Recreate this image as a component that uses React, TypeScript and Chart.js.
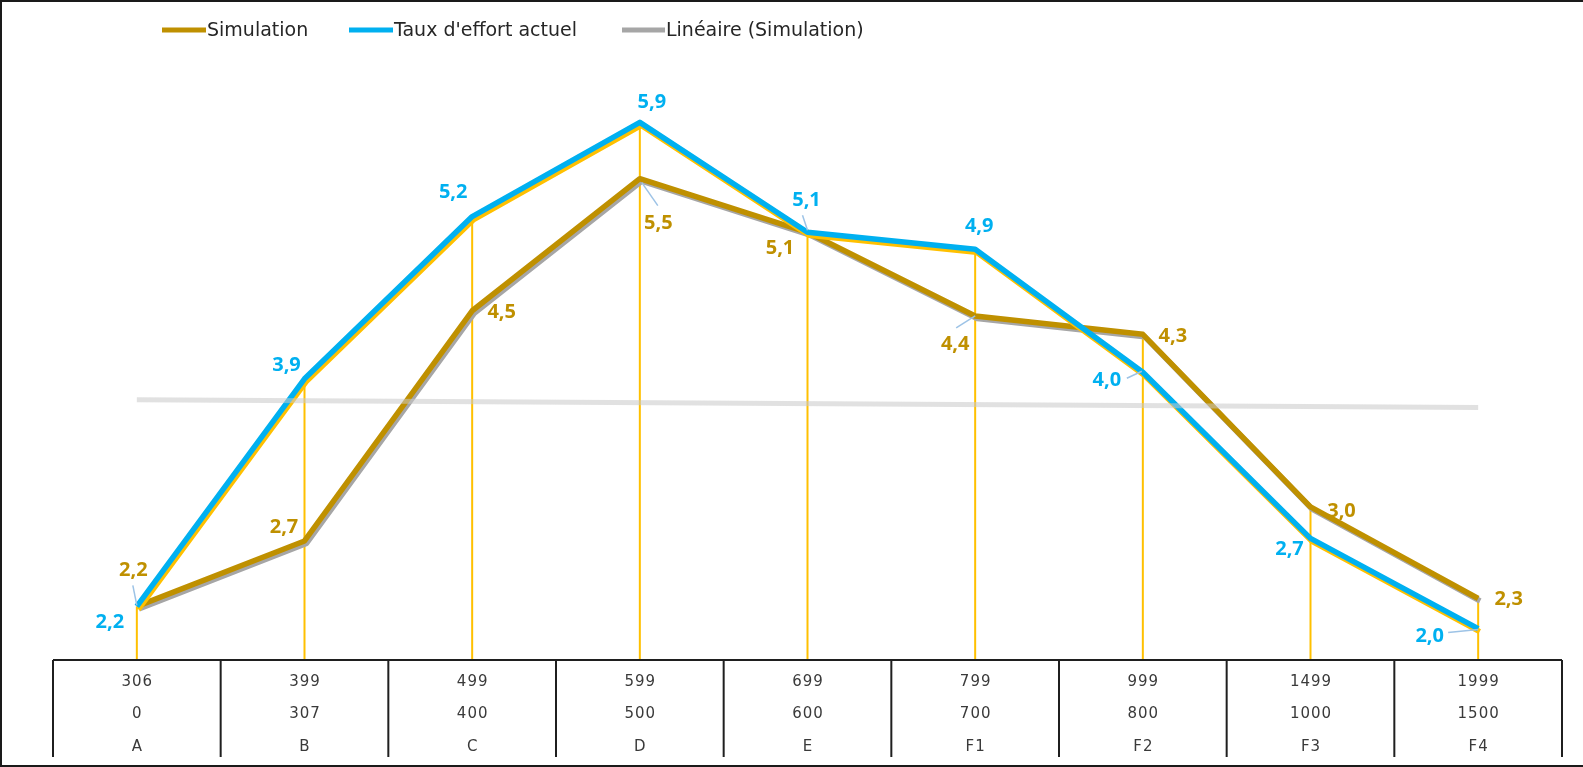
import React, { useEffect, useRef } from "react";
import { Chart, registerables } from "chart.js";

Chart.register(...registerables);

// ---- data ----
const categories = ["A", "B", "C", "D", "E", "F1", "F2", "F3", "F4"];
const rangeHigh = ["306", "399", "499", "599", "699", "799", "999", "1499", "1999"];
const rangeLow = ["0", "307", "400", "500", "600", "700", "800", "1000", "1500"];
const simulation = [2.2, 2.7, 4.46, 5.47, 5.06, 4.42, 4.28, 2.96, 2.26];
const tauxActuel = [2.2, 3.94, 5.18, 5.9, 5.06, 4.93, 3.99, 2.72, 2.03];
const lineaire = [3.78, null, null, null, null, null, null, null, 3.72];
const seriesNames = ["Simulation", "Taux d'effort actuel", "Linéaire (Simulation)"];

// ---- styles ----
const GOLD = "#BF9000";
const BLUE = "#00B0F0";
const YELLOW = "#FFC000";
const GREY = "#A6A6A6";
const LEADER = "#9DC3E6";

const simLabelOffsets = [[-3.5, -36.5], [-20.5, -14], [29.5, 2], [18.5, 44.5], [-27.5, 16], [-20, 28], [30, 2], [31, 4], [30.5, 1]];
const blueLabelOffsets = [[-27, 16], [-18, -13], [-19, -24], [12, -20], [-1, -32], [4, -23], [-36, 8], [-21, 11], [-48.5, 7.5]];
const simLeaders: Record<number, number[][]> = { 0: [[-4, -21], [0, -1]], 3: [[2, 4], [18, 27]], 5: [[-19, 12], [0, 0]] };
const blueLeaders: Record<number, number[][]> = { 4: [[-5, -17], [0, -2]], 6: [[-16, 6], [-1, -1]], 8: [[-30, 4], [0, 1]] };

const fmt = (v: number) => v.toFixed(1).replace(".", ",");

const shadowPlugin = {
  id: "shadowLines",
  beforeDatasetDraw(chart: any, args: any) {
    const ds = chart.data.datasets[args.index];
    const ctx = chart.ctx;
    ctx.save();
    if (ds.shadowColor) {
      ctx.shadowColor = ds.shadowColor;
      ctx.shadowOffsetX = ds.shadowX;
      ctx.shadowOffsetY = ds.shadowY;
      ctx.shadowBlur = 0;
    }
  },
  afterDatasetDraw(chart: any) {
    chart.ctx.restore();
  },
};

const decorPlugin = {
  id: "decor",
  beforeDatasetsDraw(chart: any) {
    const ctx = chart.ctx;
    const a = chart.chartArea;
    const mSim = chart.getDatasetMeta(1).data;
    const mBlue = chart.getDatasetMeta(0).data;
    ctx.save();
    ctx.strokeStyle = YELLOW;
    ctx.lineWidth = 2;
    for (let i = 0; i < categories.length; i++) {
      const x = mBlue[i].x;
      const top = Math.min(mSim[i].y, mBlue[i].y);
      ctx.beginPath();
      ctx.moveTo(x, top);
      ctx.lineTo(x, a.bottom);
      ctx.stroke();
    }
    ctx.restore();
  },
  afterDatasetsDraw(chart: any) {
    const ctx = chart.ctx;
    const mBlue = chart.getDatasetMeta(0).data;
    const mSim = chart.getDatasetMeta(1).data;
    ctx.save();
    ctx.strokeStyle = LEADER;
    ctx.lineWidth = 1.5;
    const drawLeaders = (meta: any[], leaders: Record<number, number[][]>) => {
      Object.keys(leaders).forEach((k) => {
        const i = Number(k);
        const p = meta[i];
        const [s, e] = leaders[i];
        ctx.beginPath();
        ctx.moveTo(p.x + s[0], p.y + s[1]);
        ctx.lineTo(p.x + e[0], p.y + e[1]);
        ctx.stroke();
      });
    };
    drawLeaders(mSim, simLeaders);
    drawLeaders(mBlue, blueLeaders);
    ctx.font = "bold 20px 'Open Sans'";
    ctx.textAlign = "center";
    ctx.textBaseline = "middle";
    ctx.fillStyle = GOLD;
    simulation.forEach((v, i) => {
      const p = mSim[i];
      ctx.fillText(fmt(v), p.x + simLabelOffsets[i][0], p.y + simLabelOffsets[i][1]);
    });
    ctx.fillStyle = BLUE;
    tauxActuel.forEach((v, i) => {
      const p = mBlue[i];
      ctx.fillText(fmt(v), p.x + blueLabelOffsets[i][0], p.y + blueLabelOffsets[i][1]);
    });
    ctx.restore();
  },
  afterDraw(chart: any) {
    const ctx = chart.ctx;
    const a = chart.chartArea;
    const xs = chart.scales.x;
    const W = chart.width;
    const H = chart.height;
    ctx.save();
    const legend = [
      { x1: 162, x2: 206, tx: 207, color: GOLD, text: seriesNames[0] },
      { x1: 349, x2: 393, tx: 394, color: BLUE, text: seriesNames[1] },
      { x1: 622, x2: 665, tx: 666, color: GREY, text: seriesNames[2] },
    ];
    ctx.lineWidth = 5;
    ctx.lineCap = "butt";
    ctx.font = "19px 'DejaVu Sans'";
    ctx.textBaseline = "middle";
    ctx.textAlign = "left";
    legend.forEach((l) => {
      ctx.strokeStyle = l.color;
      ctx.beginPath();
      ctx.moveTo(l.x1, 30);
      ctx.lineTo(l.x2, 30);
      ctx.stroke();
      ctx.fillStyle = "#262626";
      ctx.fillText(l.text, l.tx, 31);
    });
    const n = categories.length;
    const step = (a.right - a.left) / n;
    ctx.strokeStyle = "#1f1f1f";
    ctx.lineWidth = 2;
    ctx.beginPath();
    ctx.moveTo(a.left, a.bottom);
    ctx.lineTo(a.right, a.bottom);
    for (let i = 0; i <= n; i++) {
      const x = a.left + i * step;
      ctx.moveTo(x, a.bottom);
      ctx.lineTo(x, a.bottom + 97);
    }
    ctx.stroke();
    ctx.font = "15px 'DejaVu Sans'";
    (ctx as any).letterSpacing = "1px";
    ctx.textAlign = "center";
    ctx.fillStyle = "#3a3a3a";
    for (let i = 0; i < n; i++) {
      const x = xs.getPixelForValue(i) + 0.5;
      ctx.fillText(rangeHigh[i], x, a.bottom + 22);
      ctx.fillText(rangeLow[i], x, a.bottom + 54.5);
      ctx.fillText(categories[i], x, a.bottom + 87);
    }
    (ctx as any).letterSpacing = "0px";
    ctx.strokeStyle = "#1a1a1a";
    ctx.lineWidth = 2;
    ctx.beginPath();
    ctx.moveTo(W, 1);
    ctx.lineTo(1, 1);
    ctx.lineTo(1, H - 1);
    ctx.lineTo(W, H - 1);
    ctx.stroke();
    ctx.restore();
  },
};

export default function App() {
  const ref = useRef<HTMLCanvasElement | null>(null);
  useEffect(() => {
    if (!ref.current) return;
    const chart = new Chart(ref.current, {
      type: "line",
      data: {
        labels: categories,
        datasets: [
          {
            label: seriesNames[1],
            data: tauxActuel,
            borderColor: BLUE,
            backgroundColor: BLUE,
            borderWidth: 5.5,
            pointRadius: 0,
            tension: 0,
            borderJoinStyle: "round",
            order: 1,
            shadowColor: YELLOW,
            shadowX: 1.5,
            shadowY: 3,
          } as any,
          {
            label: seriesNames[0],
            data: simulation,
            borderColor: GOLD,
            backgroundColor: GOLD,
            borderWidth: 5.5,
            pointRadius: 0,
            tension: 0,
            borderJoinStyle: "round",
            order: 2,
            shadowColor: GREY,
            shadowX: 2,
            shadowY: 2.5,
          } as any,
          {
            label: seriesNames[2],
            data: lineaire,
            borderColor: "rgba(200,200,200,0.55)",
            backgroundColor: GREY,
            borderWidth: 5,
            pointRadius: 0,
            spanGaps: true,
            order: 0,
          } as any,
        ],
      },
      options: {
        responsive: false,
        animation: false,
        devicePixelRatio: 1,
        layout: { padding: { left: 53, right: 21, top: 57, bottom: 107 } },
        plugins: { legend: { display: false }, tooltip: { enabled: false } },
        scales: {
          x: { type: "category", display: false, offset: true },
          y: { display: false, min: 1.79, max: 6.4 },
        },
      },
      plugins: [shadowPlugin, decorPlugin],
    });
    return () => chart.destroy();
  }, []);
  return (
    <div style={{ position: "fixed", left: 0, top: 0, width: 1583, height: 767, background: "#fff" }}>
      <canvas ref={ref} width={1583} height={767} style={{ display: "block" }} />
    </div>
  );
}
